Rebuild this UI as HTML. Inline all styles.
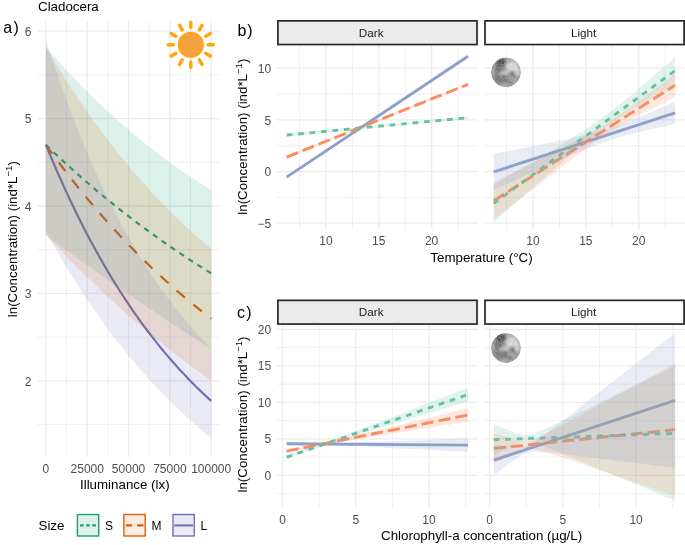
<!DOCTYPE html>
<html><head><meta charset="utf-8"><style>
html,body{margin:0;padding:0;background:#fff;}
svg{display:block;will-change:transform;}
</style></head><body>
<svg width="685" height="545" viewBox="0 0 685 545" font-family='"Liberation Sans", sans-serif'>
<defs><radialGradient id="moonG" cx="0.62" cy="0.38" r="0.75">
<stop offset="0" stop-color="#CCCCCC"/><stop offset="0.55" stop-color="#A2A2A2"/><stop offset="1" stop-color="#7E7E7E"/></radialGradient>
<filter id="mblur" x="-20%" y="-20%" width="140%" height="140%"><feGaussianBlur stdDeviation="0.9"/></filter>
<filter id="mnoise" x="0" y="0" width="100%" height="100%"><feTurbulence type="fractalNoise" baseFrequency="0.7" numOctaves="2" seed="5"/><feColorMatrix type="matrix" values="0 0 0 0 0.5  0 0 0 0 0.5  0 0 0 0 0.5  1.6 0 0 0 -0.55"/></filter>
<clipPath id="clip1"><circle cx="506.0" cy="72.3" r="14.9"/></clipPath>
<clipPath id="clip2"><circle cx="506.0" cy="348.0" r="14.9"/></clipPath>
</defs>
<rect width="685" height="545" fill="#fff"/>
<line x1="37.7" x2="219.4" y1="424.50" y2="424.50" stroke="#F0F0F0" stroke-width="1.0"/>
<line x1="37.7" x2="219.4" y1="337.10" y2="337.10" stroke="#F0F0F0" stroke-width="1.0"/>
<line x1="37.7" x2="219.4" y1="249.70" y2="249.70" stroke="#F0F0F0" stroke-width="1.0"/>
<line x1="37.7" x2="219.4" y1="162.30" y2="162.30" stroke="#F0F0F0" stroke-width="1.0"/>
<line x1="37.7" x2="219.4" y1="74.90" y2="74.90" stroke="#F0F0F0" stroke-width="1.0"/>
<line x1="66.56" x2="66.56" y1="21.0" y2="457.0" stroke="#F0F0F0" stroke-width="1.0"/>
<line x1="107.89" x2="107.89" y1="21.0" y2="457.0" stroke="#F0F0F0" stroke-width="1.0"/>
<line x1="149.21" x2="149.21" y1="21.0" y2="457.0" stroke="#F0F0F0" stroke-width="1.0"/>
<line x1="190.54" x2="190.54" y1="21.0" y2="457.0" stroke="#F0F0F0" stroke-width="1.0"/>
<line x1="37.7" x2="219.4" y1="380.80" y2="380.80" stroke="#EBEBEB" stroke-width="1.3"/>
<line x1="37.7" x2="219.4" y1="293.40" y2="293.40" stroke="#EBEBEB" stroke-width="1.3"/>
<line x1="37.7" x2="219.4" y1="206.00" y2="206.00" stroke="#EBEBEB" stroke-width="1.3"/>
<line x1="37.7" x2="219.4" y1="118.60" y2="118.60" stroke="#EBEBEB" stroke-width="1.3"/>
<line x1="37.7" x2="219.4" y1="31.20" y2="31.20" stroke="#EBEBEB" stroke-width="1.3"/>
<line x1="45.90" x2="45.90" y1="21.0" y2="457.0" stroke="#EBEBEB" stroke-width="1.3"/>
<line x1="87.22" x2="87.22" y1="21.0" y2="457.0" stroke="#EBEBEB" stroke-width="1.3"/>
<line x1="128.55" x2="128.55" y1="21.0" y2="457.0" stroke="#EBEBEB" stroke-width="1.3"/>
<line x1="169.88" x2="169.88" y1="21.0" y2="457.0" stroke="#EBEBEB" stroke-width="1.3"/>
<line x1="211.20" x2="211.20" y1="21.0" y2="457.0" stroke="#EBEBEB" stroke-width="1.3"/>
<path d="M45.90,144.82 L48.66,151.52 L51.41,158.10 L54.16,164.58 L56.92,170.95 L59.67,177.21 L62.43,183.37 L65.19,189.43 L67.94,195.39 L70.69,201.25 L73.45,207.01 L76.20,212.68 L78.96,218.25 L81.72,223.73 L84.47,229.13 L87.22,234.43 L89.98,239.64 L92.73,244.77 L95.49,249.81 L98.25,254.77 L101.00,259.65 L103.75,264.45 L106.51,269.17 L109.27,273.81 L112.02,278.37 L114.78,282.86 L117.53,287.28 L120.28,291.62 L123.04,295.89 L125.80,300.08 L128.55,304.21 L131.31,308.28 L134.06,312.27 L136.82,316.20 L139.57,320.06 L142.33,323.86 L145.08,327.60 L147.84,331.27 L150.59,334.88 L153.34,338.44 L156.10,341.93 L158.86,345.37 L161.61,348.75 L164.37,352.08 L167.12,355.35 L169.88,358.56 L172.63,361.73 L175.39,364.84 L178.14,367.90 L180.90,370.90 L183.65,373.86 L186.41,376.77 L189.16,379.64 L191.92,382.45 L194.67,385.22 L197.43,387.94 L200.18,390.62 L202.94,393.25 L205.69,395.84 L208.45,398.39 L211.20,400.89" fill="none" stroke="#7570B3" stroke-width="2.2"/>
<path d="M45.90,144.82 L48.66,148.66 L51.41,152.45 L54.16,156.21 L56.92,159.93 L59.67,163.62 L62.43,167.27 L65.19,170.88 L67.94,174.45 L70.69,177.99 L73.45,181.50 L76.20,184.97 L78.96,188.40 L81.72,191.81 L84.47,195.17 L87.22,198.51 L89.98,201.81 L92.73,205.08 L95.49,208.31 L98.25,211.52 L101.00,214.69 L103.75,217.83 L106.51,220.94 L109.27,224.01 L112.02,227.06 L114.78,230.08 L117.53,233.06 L120.28,236.02 L123.04,238.95 L125.80,241.85 L128.55,244.72 L131.31,247.56 L134.06,250.37 L136.82,253.16 L139.57,255.91 L142.33,258.64 L145.08,261.35 L147.84,264.02 L150.59,266.67 L153.34,269.29 L156.10,271.89 L158.86,274.46 L161.61,277.01 L164.37,279.53 L167.12,282.02 L169.88,284.49 L172.63,286.94 L175.39,289.36 L178.14,291.75 L180.90,294.13 L183.65,296.48 L186.41,298.80 L189.16,301.11 L191.92,303.39 L194.67,305.64 L197.43,307.88 L200.18,310.09 L202.94,312.28 L205.69,314.45 L208.45,316.60 L211.20,318.72" fill="none" stroke="#D95F02" stroke-width="2.2" stroke-dasharray="10.9 10.9"/>
<path d="M45.90,144.82 L48.66,147.47 L51.41,150.10 L54.16,152.71 L56.92,155.30 L59.67,157.87 L62.43,160.42 L65.19,162.95 L67.94,165.46 L70.69,167.96 L73.45,170.43 L76.20,172.89 L78.96,175.33 L81.72,177.75 L84.47,180.15 L87.22,182.54 L89.98,184.91 L92.73,187.26 L95.49,189.59 L98.25,191.90 L101.00,194.20 L103.75,196.48 L106.51,198.74 L109.27,200.99 L112.02,203.22 L114.78,205.43 L117.53,207.62 L120.28,209.80 L123.04,211.97 L125.80,214.11 L128.55,216.24 L131.31,218.36 L134.06,220.46 L136.82,222.54 L139.57,224.61 L142.33,226.66 L145.08,228.70 L147.84,230.72 L150.59,232.73 L153.34,234.72 L156.10,236.70 L158.86,238.66 L161.61,240.61 L164.37,242.54 L167.12,244.46 L169.88,246.36 L172.63,248.25 L175.39,250.13 L178.14,251.99 L180.90,253.84 L183.65,255.67 L186.41,257.49 L189.16,259.30 L191.92,261.09 L194.67,262.87 L197.43,264.64 L200.18,266.39 L202.94,268.14 L205.69,269.86 L208.45,271.58 L211.20,273.28" fill="none" stroke="#1B9E77" stroke-width="2.2" stroke-dasharray="5.4 5.35"/>
<path d="M45.90,46.93 L48.66,50.14 L51.41,53.32 L54.16,56.46 L56.92,59.57 L59.67,62.65 L62.43,65.70 L65.19,68.71 L67.94,71.69 L70.69,74.64 L73.45,77.55 L76.20,80.44 L78.96,83.30 L81.72,86.12 L84.47,88.92 L87.22,91.68 L89.98,94.42 L92.73,97.13 L95.49,99.81 L98.25,102.46 L101.00,105.08 L103.75,107.67 L106.51,110.24 L109.27,112.78 L112.02,115.29 L114.78,117.78 L117.53,120.24 L120.28,122.67 L123.04,125.08 L125.80,127.46 L128.55,129.82 L131.31,132.15 L134.06,134.46 L136.82,136.74 L139.57,139.00 L142.33,141.23 L145.08,143.44 L147.84,145.63 L150.59,147.79 L153.34,149.94 L156.10,152.05 L158.86,154.15 L161.61,156.22 L164.37,158.28 L167.12,160.30 L169.88,162.31 L172.63,164.30 L175.39,166.27 L178.14,168.21 L180.90,170.14 L183.65,172.04 L186.41,173.92 L189.16,175.79 L191.92,177.63 L194.67,179.46 L197.43,181.26 L200.18,183.05 L202.94,184.82 L205.69,186.56 L208.45,188.29 L211.20,190.00 L211.20,348.98 L208.45,347.22 L205.69,345.45 L202.94,343.68 L200.18,341.91 L197.43,340.13 L194.67,338.35 L191.92,336.56 L189.16,334.77 L186.41,332.97 L183.65,331.17 L180.90,329.36 L178.14,327.55 L175.39,325.74 L172.63,323.92 L169.88,322.09 L167.12,320.26 L164.37,318.43 L161.61,316.59 L158.86,314.75 L156.10,312.90 L153.34,311.05 L150.59,309.20 L147.84,307.33 L145.08,305.47 L142.33,303.60 L139.57,301.72 L136.82,299.84 L134.06,297.96 L131.31,296.07 L128.55,294.18 L125.80,292.28 L123.04,290.37 L120.28,288.47 L117.53,286.55 L114.78,284.64 L112.02,282.71 L109.27,280.79 L106.51,278.85 L103.75,276.92 L101.00,274.98 L98.25,273.03 L95.49,271.08 L92.73,269.12 L89.98,267.16 L87.22,265.19 L84.47,263.22 L81.72,261.25 L78.96,259.27 L76.20,257.28 L73.45,255.29 L70.69,253.29 L67.94,251.29 L65.19,249.29 L62.43,247.28 L59.67,245.26 L56.92,243.24 L54.16,241.21 L51.41,239.18 L48.66,237.15 L45.90,235.10 Z" fill="#1B9E77" fill-opacity="0.15"/>
<path d="M45.90,46.93 L48.66,51.62 L51.41,56.26 L54.16,60.84 L56.92,65.37 L59.67,69.84 L62.43,74.26 L65.19,78.63 L67.94,82.94 L70.69,87.20 L73.45,91.42 L76.20,95.58 L78.96,99.69 L81.72,103.75 L84.47,107.77 L87.22,111.73 L89.98,115.65 L92.73,119.53 L95.49,123.35 L98.25,127.13 L101.00,130.87 L103.75,134.56 L106.51,138.21 L109.27,141.81 L112.02,145.37 L114.78,148.89 L117.53,152.37 L120.28,155.80 L123.04,159.20 L125.80,162.55 L128.55,165.86 L131.31,169.14 L134.06,172.37 L136.82,175.57 L139.57,178.73 L142.33,181.85 L145.08,184.93 L147.84,187.97 L150.59,190.99 L153.34,193.96 L156.10,196.90 L158.86,199.80 L161.61,202.67 L164.37,205.51 L167.12,208.31 L169.88,211.07 L172.63,213.81 L175.39,216.51 L178.14,219.18 L180.90,221.82 L183.65,224.42 L186.41,227.00 L189.16,229.54 L191.92,232.06 L194.67,234.54 L197.43,237.00 L200.18,239.42 L202.94,241.82 L205.69,244.19 L208.45,246.53 L211.20,248.84 L211.20,380.79 L208.45,378.82 L205.69,376.84 L202.94,374.85 L200.18,372.85 L197.43,370.83 L194.67,368.79 L191.92,366.74 L189.16,364.68 L186.41,362.60 L183.65,360.51 L180.90,358.41 L178.14,356.28 L175.39,354.15 L172.63,352.00 L169.88,349.83 L167.12,347.65 L164.37,345.45 L161.61,343.24 L158.86,341.01 L156.10,338.77 L153.34,336.51 L150.59,334.23 L147.84,331.94 L145.08,329.64 L142.33,327.31 L139.57,324.97 L136.82,322.62 L134.06,320.24 L131.31,317.85 L128.55,315.45 L125.80,313.02 L123.04,310.58 L120.28,308.13 L117.53,305.65 L114.78,303.16 L112.02,300.65 L109.27,298.12 L106.51,295.58 L103.75,293.02 L101.00,290.44 L98.25,287.84 L95.49,285.22 L92.73,282.59 L89.98,279.93 L87.22,277.26 L84.47,274.57 L81.72,271.86 L78.96,269.13 L76.20,266.38 L73.45,263.61 L70.69,260.82 L67.94,258.02 L65.19,255.19 L62.43,252.34 L59.67,249.48 L56.92,246.59 L54.16,243.69 L51.41,240.76 L48.66,237.81 L45.90,234.84 Z" fill="#D95F02" fill-opacity="0.15"/>
<path d="M45.90,39.94 L48.66,48.51 L51.41,56.92 L54.16,65.16 L56.92,73.26 L59.67,81.19 L62.43,88.98 L65.19,96.62 L67.94,104.11 L70.69,111.46 L73.45,118.68 L76.20,125.75 L78.96,132.69 L81.72,139.50 L84.47,146.18 L87.22,152.73 L89.98,159.16 L92.73,165.47 L95.49,171.66 L98.25,177.72 L101.00,183.68 L103.75,189.52 L106.51,195.25 L109.27,200.87 L112.02,206.39 L114.78,211.80 L117.53,217.10 L120.28,222.31 L123.04,227.42 L125.80,232.43 L128.55,237.34 L131.31,242.17 L134.06,246.90 L136.82,251.54 L139.57,256.09 L142.33,260.56 L145.08,264.94 L147.84,269.24 L150.59,273.45 L153.34,277.59 L156.10,281.65 L158.86,285.63 L161.61,289.54 L164.37,293.37 L167.12,297.13 L169.88,300.81 L172.63,304.43 L175.39,307.98 L178.14,311.46 L180.90,314.88 L183.65,318.23 L186.41,321.51 L189.16,324.74 L191.92,327.90 L194.67,331.00 L197.43,334.05 L200.18,337.04 L202.94,339.96 L205.69,342.84 L208.45,345.66 L211.20,348.42 L211.20,437.97 L208.45,435.74 L205.69,433.47 L202.94,431.18 L200.18,428.85 L197.43,426.49 L194.67,424.09 L191.92,421.67 L189.16,419.21 L186.41,416.71 L183.65,414.19 L180.90,411.62 L178.14,409.03 L175.39,406.39 L172.63,403.72 L169.88,401.02 L167.12,398.27 L164.37,395.49 L161.61,392.67 L158.86,389.81 L156.10,386.92 L153.34,383.98 L150.59,381.00 L147.84,377.98 L145.08,374.92 L142.33,371.82 L139.57,368.67 L136.82,365.48 L134.06,362.25 L131.31,358.97 L128.55,355.65 L125.80,352.28 L123.04,348.87 L120.28,345.41 L117.53,341.90 L114.78,338.34 L112.02,334.74 L109.27,331.08 L106.51,327.37 L103.75,323.62 L101.00,319.81 L98.25,315.95 L95.49,312.03 L92.73,308.07 L89.98,304.04 L87.22,299.96 L84.47,295.83 L81.72,291.64 L78.96,287.39 L76.20,283.08 L73.45,278.72 L70.69,274.29 L67.94,269.80 L65.19,265.25 L62.43,260.64 L59.67,255.97 L56.92,251.23 L54.16,246.42 L51.41,241.55 L48.66,236.61 L45.90,231.61 Z" fill="#7570B3" fill-opacity="0.15"/>
<g stroke="#FFA60F" stroke-width="3.5" stroke-linecap="round"><line x1="208.10" y1="44.80" x2="213.40" y2="44.80"/><line x1="205.78" y1="53.45" x2="210.37" y2="56.10"/><line x1="199.45" y1="59.78" x2="202.10" y2="64.37"/><line x1="190.80" y1="62.10" x2="190.80" y2="67.40"/><line x1="182.15" y1="59.78" x2="179.50" y2="64.37"/><line x1="175.82" y1="53.45" x2="171.23" y2="56.10"/><line x1="173.50" y1="44.80" x2="168.20" y2="44.80"/><line x1="175.82" y1="36.15" x2="171.23" y2="33.50"/><line x1="182.15" y1="29.82" x2="179.50" y2="25.23"/><line x1="190.80" y1="27.50" x2="190.80" y2="22.20"/><line x1="199.45" y1="29.82" x2="202.10" y2="25.23"/><line x1="205.78" y1="36.15" x2="210.37" y2="33.50"/></g>
<circle cx="190.8" cy="44.8" r="12.3" fill="#F6A23E" stroke="#FFA510" stroke-width="1.6"/>
<text x="31.4" y="385.60" text-anchor="end" font-family='"Liberation Sans", sans-serif' font-size="12" fill="#4D4D4D">2</text>
<text x="31.4" y="298.20" text-anchor="end" font-family='"Liberation Sans", sans-serif' font-size="12" fill="#4D4D4D">3</text>
<text x="31.4" y="210.80" text-anchor="end" font-family='"Liberation Sans", sans-serif' font-size="12" fill="#4D4D4D">4</text>
<text x="31.4" y="123.40" text-anchor="end" font-family='"Liberation Sans", sans-serif' font-size="12" fill="#4D4D4D">5</text>
<text x="31.4" y="36.00" text-anchor="end" font-family='"Liberation Sans", sans-serif' font-size="12" fill="#4D4D4D">6</text>
<text x="45.90" y="473.4" text-anchor="middle" font-family='"Liberation Sans", sans-serif' font-size="12" fill="#4D4D4D">0</text>
<text x="87.22" y="473.4" text-anchor="middle" font-family='"Liberation Sans", sans-serif' font-size="12" fill="#4D4D4D">25000</text>
<text x="128.55" y="473.4" text-anchor="middle" font-family='"Liberation Sans", sans-serif' font-size="12" fill="#4D4D4D">50000</text>
<text x="169.88" y="473.4" text-anchor="middle" font-family='"Liberation Sans", sans-serif' font-size="12" fill="#4D4D4D">75000</text>
<text x="211.20" y="473.4" text-anchor="middle" font-family='"Liberation Sans", sans-serif' font-size="12" fill="#4D4D4D">100000</text>
<text x="124.8" y="488.6" text-anchor="middle" font-family='"Liberation Sans", sans-serif' font-size="13.33" fill="#000">Illuminance (lx)</text>
<text x="38" y="10.6" font-family='"Liberation Sans", sans-serif' font-size="13.33" fill="#000">Cladocera</text>
<text transform="translate(16.6,239.2) rotate(-90)" text-anchor="middle" font-family='"Liberation Sans", sans-serif' font-size="13.33" fill="#000">ln(Concentration) (ind*L<tspan dy="-5" font-size="9.5">−1</tspan><tspan dy="5">)</tspan></text>
<text transform="translate(246.6,136.7) rotate(-90)" text-anchor="middle" font-family='"Liberation Sans", sans-serif' font-size="13.33" fill="#000">ln(Concentration) (ind*L<tspan dy="-5" font-size="9.5">−1</tspan><tspan dy="5">)</tspan></text>
<text transform="translate(246.6,414.5) rotate(-90)" text-anchor="middle" font-family='"Liberation Sans", sans-serif' font-size="13.33" fill="#000">ln(Concentration) (ind*L<tspan dy="-5" font-size="9.5">−1</tspan><tspan dy="5">)</tspan></text>
<text x="3.2" y="32.5" font-family='"Liberation Sans", sans-serif' font-size="16" fill="#000">a<tspan dx="1.5">)</tspan></text>
<text x="237.4" y="35.6" font-family='"Liberation Sans", sans-serif' font-size="16" fill="#000">b<tspan dx="0.9">)</tspan></text>
<text x="237.0" y="317.5" font-family='"Liberation Sans", sans-serif' font-size="16" fill="#000">c<tspan dx="1.2">)</tspan></text>
<text x="38.5" y="530" font-family='"Liberation Sans", sans-serif' font-size="13.33" fill="#000">Size</text>
<rect x="77.4" y="514.5" width="21.3" height="21.5" fill="#1B9E77" fill-opacity="0.15" stroke="#1B9E77" stroke-width="1.4"/>
<line x1="80.10000000000001" x2="96.2" y1="525.4" y2="525.4" stroke="#1B9E77" stroke-width="2.1" stroke-dasharray="3.5 2.6"/>
<text x="105.0" y="530" font-family='"Liberation Sans", sans-serif' font-size="12" fill="#000">S</text>
<rect x="123.9" y="514.5" width="21.3" height="21.5" fill="#FEECE4" stroke="#D95F02" stroke-width="1.4"/>
<line x1="125.80000000000001" x2="143.70000000000002" y1="525.4" y2="525.4" stroke="#D95F02" stroke-width="2.1" stroke-dasharray="6.3 5.0"/>
<text x="151.5" y="530" font-family='"Liberation Sans", sans-serif' font-size="12" fill="#000">M</text>
<rect x="173.0" y="514.5" width="21.3" height="21.5" fill="#7570B3" fill-opacity="0.15" stroke="#7570B3" stroke-width="1.4"/>
<line x1="174.2" x2="193.1" y1="525.4" y2="525.4" stroke="#7570B3" stroke-width="2.1"/>
<text x="200.6" y="530" font-family='"Liberation Sans", sans-serif' font-size="12" fill="#000">L</text>
<line x1="277.2" x2="477.7" y1="197.38" y2="197.38" stroke="#F0F0F0" stroke-width="1.0"/>
<line x1="277.2" x2="477.7" y1="145.72" y2="145.72" stroke="#F0F0F0" stroke-width="1.0"/>
<line x1="277.2" x2="477.7" y1="94.05" y2="94.05" stroke="#F0F0F0" stroke-width="1.0"/>
<line x1="299.50" x2="299.50" y1="45.6" y2="229.6" stroke="#F0F0F0" stroke-width="1.0"/>
<line x1="352.35" x2="352.35" y1="45.6" y2="229.6" stroke="#F0F0F0" stroke-width="1.0"/>
<line x1="405.20" x2="405.20" y1="45.6" y2="229.6" stroke="#F0F0F0" stroke-width="1.0"/>
<line x1="458.05" x2="458.05" y1="45.6" y2="229.6" stroke="#F0F0F0" stroke-width="1.0"/>
<line x1="277.2" x2="477.7" y1="223.22" y2="223.22" stroke="#EBEBEB" stroke-width="1.3"/>
<line x1="277.2" x2="477.7" y1="171.55" y2="171.55" stroke="#EBEBEB" stroke-width="1.3"/>
<line x1="277.2" x2="477.7" y1="119.89" y2="119.89" stroke="#EBEBEB" stroke-width="1.3"/>
<line x1="277.2" x2="477.7" y1="68.22" y2="68.22" stroke="#EBEBEB" stroke-width="1.3"/>
<line x1="325.93" x2="325.93" y1="45.6" y2="229.6" stroke="#EBEBEB" stroke-width="1.3"/>
<line x1="378.77" x2="378.77" y1="45.6" y2="229.6" stroke="#EBEBEB" stroke-width="1.3"/>
<line x1="431.62" x2="431.62" y1="45.6" y2="229.6" stroke="#EBEBEB" stroke-width="1.3"/>
<line x1="277.2" x2="477.7" y1="493.66" y2="493.66" stroke="#F0F0F0" stroke-width="1.0"/>
<line x1="277.2" x2="477.7" y1="457.14" y2="457.14" stroke="#F0F0F0" stroke-width="1.0"/>
<line x1="277.2" x2="477.7" y1="420.61" y2="420.61" stroke="#F0F0F0" stroke-width="1.0"/>
<line x1="277.2" x2="477.7" y1="384.09" y2="384.09" stroke="#F0F0F0" stroke-width="1.0"/>
<line x1="277.2" x2="477.7" y1="347.56" y2="347.56" stroke="#F0F0F0" stroke-width="1.0"/>
<line x1="319.12" x2="319.12" y1="324.7" y2="508.8" stroke="#F0F0F0" stroke-width="1.0"/>
<line x1="392.38" x2="392.38" y1="324.7" y2="508.8" stroke="#F0F0F0" stroke-width="1.0"/>
<line x1="465.62" x2="465.62" y1="324.7" y2="508.8" stroke="#F0F0F0" stroke-width="1.0"/>
<line x1="277.2" x2="477.7" y1="475.40" y2="475.40" stroke="#EBEBEB" stroke-width="1.3"/>
<line x1="277.2" x2="477.7" y1="438.88" y2="438.88" stroke="#EBEBEB" stroke-width="1.3"/>
<line x1="277.2" x2="477.7" y1="402.35" y2="402.35" stroke="#EBEBEB" stroke-width="1.3"/>
<line x1="277.2" x2="477.7" y1="365.82" y2="365.82" stroke="#EBEBEB" stroke-width="1.3"/>
<line x1="277.2" x2="477.7" y1="329.30" y2="329.30" stroke="#EBEBEB" stroke-width="1.3"/>
<line x1="282.50" x2="282.50" y1="324.7" y2="508.8" stroke="#EBEBEB" stroke-width="1.3"/>
<line x1="355.75" x2="355.75" y1="324.7" y2="508.8" stroke="#EBEBEB" stroke-width="1.3"/>
<line x1="429.00" x2="429.00" y1="324.7" y2="508.8" stroke="#EBEBEB" stroke-width="1.3"/>
<line x1="484.29999999999995" x2="684.8" y1="197.38" y2="197.38" stroke="#F0F0F0" stroke-width="1.0"/>
<line x1="484.29999999999995" x2="684.8" y1="145.72" y2="145.72" stroke="#F0F0F0" stroke-width="1.0"/>
<line x1="484.29999999999995" x2="684.8" y1="94.05" y2="94.05" stroke="#F0F0F0" stroke-width="1.0"/>
<line x1="506.60" x2="506.60" y1="45.6" y2="229.6" stroke="#F0F0F0" stroke-width="1.0"/>
<line x1="559.45" x2="559.45" y1="45.6" y2="229.6" stroke="#F0F0F0" stroke-width="1.0"/>
<line x1="612.30" x2="612.30" y1="45.6" y2="229.6" stroke="#F0F0F0" stroke-width="1.0"/>
<line x1="665.15" x2="665.15" y1="45.6" y2="229.6" stroke="#F0F0F0" stroke-width="1.0"/>
<line x1="484.29999999999995" x2="684.8" y1="223.22" y2="223.22" stroke="#EBEBEB" stroke-width="1.3"/>
<line x1="484.29999999999995" x2="684.8" y1="171.55" y2="171.55" stroke="#EBEBEB" stroke-width="1.3"/>
<line x1="484.29999999999995" x2="684.8" y1="119.89" y2="119.89" stroke="#EBEBEB" stroke-width="1.3"/>
<line x1="484.29999999999995" x2="684.8" y1="68.22" y2="68.22" stroke="#EBEBEB" stroke-width="1.3"/>
<line x1="533.02" x2="533.02" y1="45.6" y2="229.6" stroke="#EBEBEB" stroke-width="1.3"/>
<line x1="585.88" x2="585.88" y1="45.6" y2="229.6" stroke="#EBEBEB" stroke-width="1.3"/>
<line x1="638.73" x2="638.73" y1="45.6" y2="229.6" stroke="#EBEBEB" stroke-width="1.3"/>
<line x1="484.29999999999995" x2="684.8" y1="493.66" y2="493.66" stroke="#F0F0F0" stroke-width="1.0"/>
<line x1="484.29999999999995" x2="684.8" y1="457.14" y2="457.14" stroke="#F0F0F0" stroke-width="1.0"/>
<line x1="484.29999999999995" x2="684.8" y1="420.61" y2="420.61" stroke="#F0F0F0" stroke-width="1.0"/>
<line x1="484.29999999999995" x2="684.8" y1="384.09" y2="384.09" stroke="#F0F0F0" stroke-width="1.0"/>
<line x1="484.29999999999995" x2="684.8" y1="347.56" y2="347.56" stroke="#F0F0F0" stroke-width="1.0"/>
<line x1="526.23" x2="526.23" y1="324.7" y2="508.8" stroke="#F0F0F0" stroke-width="1.0"/>
<line x1="599.48" x2="599.48" y1="324.7" y2="508.8" stroke="#F0F0F0" stroke-width="1.0"/>
<line x1="672.73" x2="672.73" y1="324.7" y2="508.8" stroke="#F0F0F0" stroke-width="1.0"/>
<line x1="484.29999999999995" x2="684.8" y1="475.40" y2="475.40" stroke="#EBEBEB" stroke-width="1.3"/>
<line x1="484.29999999999995" x2="684.8" y1="438.88" y2="438.88" stroke="#EBEBEB" stroke-width="1.3"/>
<line x1="484.29999999999995" x2="684.8" y1="402.35" y2="402.35" stroke="#EBEBEB" stroke-width="1.3"/>
<line x1="484.29999999999995" x2="684.8" y1="365.82" y2="365.82" stroke="#EBEBEB" stroke-width="1.3"/>
<line x1="484.29999999999995" x2="684.8" y1="329.30" y2="329.30" stroke="#EBEBEB" stroke-width="1.3"/>
<line x1="489.60" x2="489.60" y1="324.7" y2="508.8" stroke="#EBEBEB" stroke-width="1.3"/>
<line x1="562.85" x2="562.85" y1="324.7" y2="508.8" stroke="#EBEBEB" stroke-width="1.3"/>
<line x1="636.10" x2="636.10" y1="324.7" y2="508.8" stroke="#EBEBEB" stroke-width="1.3"/>
<path d="M286.65,177.13 L468.00,56.23" fill="none" stroke="#8DA0CB" stroke-width="2.9"/>
<path d="M286.65,157.08 L468.00,84.34" fill="none" stroke="#FC8D62" stroke-width="2.9" stroke-dasharray="12.2 5.0"/>
<path d="M286.65,135.07 L468.00,117.72" fill="none" stroke="#66C2A5" stroke-width="2.9" stroke-dasharray="5.7 5.8"/>
<path d="M286.65,133.35 L291.18,132.96 L295.72,132.57 L300.25,132.18 L304.78,131.79 L309.32,131.40 L313.85,131.00 L318.39,130.61 L322.92,130.21 L327.45,129.81 L331.99,129.42 L336.52,129.02 L341.06,128.62 L345.59,128.21 L350.12,127.81 L354.66,127.40 L359.19,126.99 L363.72,126.58 L368.26,126.17 L372.79,125.75 L377.32,125.33 L381.86,124.91 L386.39,124.48 L390.93,124.06 L395.46,123.63 L399.99,123.19 L404.53,122.75 L409.06,122.31 L413.60,121.87 L418.13,121.43 L422.66,120.98 L427.20,120.53 L431.73,120.07 L436.26,119.62 L440.80,119.16 L445.33,118.70 L449.87,118.23 L454.40,117.77 L458.93,117.30 L463.47,116.84 L468.00,116.37 L468.00,119.06 L463.47,119.46 L458.93,119.86 L454.40,120.26 L449.87,120.67 L445.33,121.07 L440.80,121.48 L436.26,121.89 L431.73,122.30 L427.20,122.72 L422.66,123.13 L418.13,123.55 L413.60,123.97 L409.06,124.40 L404.53,124.83 L399.99,125.26 L395.46,125.69 L390.93,126.13 L386.39,126.57 L381.86,127.01 L377.32,127.46 L372.79,127.91 L368.26,128.36 L363.72,128.81 L359.19,129.27 L354.66,129.73 L350.12,130.19 L345.59,130.65 L341.06,131.12 L336.52,131.58 L331.99,132.05 L327.45,132.52 L322.92,132.99 L318.39,133.47 L313.85,133.94 L309.32,134.41 L304.78,134.89 L300.25,135.37 L295.72,135.84 L291.18,136.32 L286.65,136.80 Z" fill="#66C2A5" fill-opacity="0.2"/>
<path d="M286.65,155.27 L291.18,153.50 L295.72,151.73 L300.25,149.96 L304.78,148.19 L309.32,146.41 L313.85,144.64 L318.39,142.87 L322.92,141.09 L327.45,139.31 L331.99,137.54 L336.52,135.76 L341.06,133.97 L345.59,132.19 L350.12,130.41 L354.66,128.62 L359.19,126.83 L363.72,125.04 L368.26,123.24 L372.79,121.44 L377.32,119.64 L381.86,117.84 L386.39,116.03 L390.93,114.22 L395.46,112.40 L399.99,110.58 L404.53,108.76 L409.06,106.94 L413.60,105.11 L418.13,103.28 L422.66,101.44 L427.20,99.60 L431.73,97.76 L436.26,95.92 L440.80,94.07 L445.33,92.22 L449.87,90.37 L454.40,88.51 L458.93,86.66 L463.47,84.80 L468.00,82.94 L468.00,85.74 L463.47,87.51 L458.93,89.29 L454.40,91.08 L449.87,92.86 L445.33,94.65 L440.80,96.43 L436.26,98.22 L431.73,100.02 L427.20,101.81 L422.66,103.61 L418.13,105.41 L413.60,107.22 L409.06,109.03 L404.53,110.84 L399.99,112.65 L395.46,114.47 L390.93,116.29 L386.39,118.12 L381.86,119.95 L377.32,121.78 L372.79,123.62 L368.26,125.46 L363.72,127.30 L359.19,129.14 L354.66,130.99 L350.12,132.84 L345.59,134.69 L341.06,136.55 L336.52,138.40 L331.99,140.26 L327.45,142.12 L322.92,143.98 L318.39,145.84 L313.85,147.70 L309.32,149.57 L304.78,151.43 L300.25,153.30 L295.72,155.17 L291.18,157.03 L286.65,158.90 Z" fill="#FC8D62" fill-opacity="0.2"/>
<path d="M286.65,175.80 L291.18,172.82 L295.72,169.82 L300.25,166.83 L304.78,163.84 L309.32,160.85 L313.85,157.86 L318.39,154.86 L322.92,151.87 L327.45,148.87 L331.99,145.88 L336.52,142.88 L341.06,139.88 L345.59,136.88 L350.12,133.88 L354.66,130.87 L359.19,127.87 L363.72,124.86 L368.26,121.85 L372.79,118.84 L377.32,115.83 L381.86,112.82 L386.39,109.80 L390.93,106.79 L395.46,103.77 L399.99,100.74 L404.53,97.72 L409.06,94.69 L413.60,91.66 L418.13,88.63 L422.66,85.60 L427.20,82.57 L431.73,79.53 L436.26,76.49 L440.80,73.45 L445.33,70.41 L449.87,67.37 L454.40,64.32 L458.93,61.28 L463.47,58.23 L468.00,55.18 L468.00,57.29 L463.47,60.28 L458.93,63.28 L454.40,66.28 L449.87,69.28 L445.33,72.28 L440.80,75.29 L436.26,78.29 L431.73,81.30 L427.20,84.31 L422.66,87.32 L418.13,90.33 L413.60,93.34 L409.06,96.36 L404.53,99.38 L399.99,102.40 L395.46,105.42 L390.93,108.44 L386.39,111.47 L381.86,114.50 L377.32,117.53 L372.79,120.56 L368.26,123.60 L363.72,126.63 L359.19,129.67 L354.66,132.71 L350.12,135.76 L345.59,138.80 L341.06,141.84 L336.52,144.89 L331.99,147.94 L327.45,150.98 L322.92,154.03 L318.39,157.08 L313.85,160.13 L309.32,163.19 L304.78,166.24 L300.25,169.29 L295.72,172.35 L291.18,175.40 L286.65,178.45 Z" fill="#8DA0CB" fill-opacity="0.2"/>
<path d="M493.75,171.96 L675.10,112.76" fill="none" stroke="#8DA0CB" stroke-width="2.9"/>
<path d="M493.75,200.79 L675.10,85.17" fill="none" stroke="#FC8D62" stroke-width="2.9" stroke-dasharray="12.2 5.0"/>
<path d="M493.75,203.38 L675.10,70.60" fill="none" stroke="#66C2A5" stroke-width="2.9" stroke-dasharray="5.7 5.8"/>
<path d="M493.75,184.45 L498.28,181.83 L502.82,179.21 L507.35,176.58 L511.88,173.95 L516.42,171.32 L520.95,168.67 L525.49,166.03 L530.02,163.37 L534.55,160.71 L539.09,158.03 L543.62,155.35 L548.15,152.65 L552.69,149.93 L557.22,147.19 L561.76,144.43 L566.29,141.65 L570.82,138.82 L575.36,135.96 L579.89,133.06 L584.42,130.09 L588.96,127.06 L593.49,123.96 L598.03,120.78 L602.56,117.51 L607.09,114.15 L611.63,110.70 L616.16,107.17 L620.70,103.57 L625.23,99.90 L629.76,96.18 L634.30,92.40 L638.83,88.59 L643.36,84.74 L647.90,80.86 L652.43,76.96 L656.97,73.04 L661.50,69.11 L666.03,65.15 L670.57,61.19 L675.10,57.22 L675.10,83.98 L670.57,86.64 L666.03,89.32 L661.50,92.00 L656.97,94.71 L652.43,97.43 L647.90,100.16 L643.36,102.93 L638.83,105.72 L634.30,108.54 L629.76,111.41 L625.23,114.32 L620.70,117.29 L616.16,120.33 L611.63,123.44 L607.09,126.63 L602.56,129.91 L598.03,133.28 L593.49,136.73 L588.96,140.27 L584.42,143.88 L579.89,147.55 L575.36,151.29 L570.82,155.06 L566.29,158.88 L561.76,162.73 L557.22,166.61 L552.69,170.52 L548.15,174.44 L543.62,178.38 L539.09,182.33 L534.55,186.29 L530.02,190.27 L525.49,194.25 L520.95,198.24 L516.42,202.24 L511.88,206.24 L507.35,210.25 L502.82,214.27 L498.28,218.28 L493.75,222.30 Z" fill="#66C2A5" fill-opacity="0.2"/>
<path d="M493.75,181.86 L498.28,179.65 L502.82,177.44 L507.35,175.22 L511.88,173.00 L516.42,170.77 L520.95,168.54 L525.49,166.31 L530.02,164.07 L534.55,161.83 L539.09,159.57 L543.62,157.31 L548.15,155.04 L552.69,152.75 L557.22,150.45 L561.76,148.14 L566.29,145.80 L570.82,143.44 L575.36,141.05 L579.89,138.62 L584.42,136.15 L588.96,133.63 L593.49,131.04 L598.03,128.39 L602.56,125.66 L607.09,122.84 L611.63,119.93 L616.16,116.94 L620.70,113.86 L625.23,110.70 L629.76,107.48 L634.30,104.20 L638.83,100.87 L643.36,97.50 L647.90,94.10 L652.43,90.67 L656.97,87.22 L661.50,83.75 L666.03,80.26 L670.57,76.76 L675.10,73.24 L675.10,97.09 L670.57,99.36 L666.03,101.64 L661.50,103.93 L656.97,106.24 L652.43,108.57 L647.90,110.92 L643.36,113.30 L638.83,115.71 L634.30,118.17 L629.76,120.67 L625.23,123.23 L620.70,125.85 L616.16,128.55 L611.63,131.34 L607.09,134.21 L602.56,137.18 L598.03,140.22 L593.49,143.35 L588.96,146.55 L584.42,149.81 L579.89,153.12 L575.36,156.47 L570.82,159.86 L566.29,163.28 L561.76,166.73 L557.22,170.19 L552.69,173.68 L548.15,177.17 L543.62,180.68 L539.09,184.20 L534.55,187.73 L530.02,191.26 L525.49,194.80 L520.95,198.35 L516.42,201.90 L511.88,205.46 L507.35,209.02 L502.82,212.59 L498.28,216.15 L493.75,219.72 Z" fill="#FC8D62" fill-opacity="0.2"/>
<path d="M493.75,153.62 L498.28,152.77 L502.82,151.92 L507.35,151.06 L511.88,150.20 L516.42,149.34 L520.95,148.47 L525.49,147.59 L530.02,146.71 L534.55,145.82 L539.09,144.92 L543.62,144.02 L548.15,143.10 L552.69,142.17 L557.22,141.22 L561.76,140.26 L566.29,139.28 L570.82,138.27 L575.36,137.24 L579.89,136.17 L584.42,135.06 L588.96,133.91 L593.49,132.71 L598.03,131.45 L602.56,130.13 L607.09,128.74 L611.63,127.28 L616.16,125.74 L620.70,124.13 L625.23,122.46 L629.76,120.73 L634.30,118.94 L638.83,117.10 L643.36,115.23 L647.90,113.32 L652.43,111.37 L656.97,109.41 L661.50,107.42 L666.03,105.41 L670.57,103.39 L675.10,101.35 L675.10,124.16 L670.57,125.08 L666.03,126.02 L661.50,126.97 L656.97,127.94 L652.43,128.94 L647.90,129.96 L643.36,131.01 L638.83,132.09 L634.30,133.21 L629.76,134.39 L625.23,135.61 L620.70,136.90 L616.16,138.26 L611.63,139.68 L607.09,141.18 L602.56,142.75 L598.03,144.38 L593.49,146.08 L588.96,147.84 L584.42,149.65 L579.89,151.51 L575.36,153.40 L570.82,155.33 L566.29,157.28 L561.76,159.26 L557.22,161.26 L552.69,163.27 L548.15,165.30 L543.62,167.35 L539.09,169.40 L534.55,171.46 L530.02,173.53 L525.49,175.61 L520.95,177.70 L516.42,179.79 L511.88,181.88 L507.35,183.98 L502.82,186.09 L498.28,188.19 L493.75,190.30 Z" fill="#8DA0CB" fill-opacity="0.2"/>
<path d="M286.65,443.77 L468.00,445.16" fill="none" stroke="#8DA0CB" stroke-width="2.9"/>
<path d="M286.65,451.07 L468.00,414.99" fill="none" stroke="#FC8D62" stroke-width="2.9" stroke-dasharray="12.2 5.0"/>
<path d="M286.65,457.14 L468.00,394.53" fill="none" stroke="#66C2A5" stroke-width="2.9" stroke-dasharray="5.7 5.8"/>
<path d="M286.65,455.04 L291.18,453.62 L295.72,452.18 L300.25,450.73 L304.78,449.26 L309.32,447.77 L313.85,446.26 L318.39,444.72 L322.92,443.15 L327.45,441.55 L331.99,439.93 L336.52,438.28 L341.06,436.62 L345.59,434.93 L350.12,433.23 L354.66,431.53 L359.19,429.81 L363.72,428.08 L368.26,426.35 L372.79,424.62 L377.32,422.87 L381.86,421.13 L386.39,419.38 L390.93,417.63 L395.46,415.88 L399.99,414.13 L404.53,412.38 L409.06,410.62 L413.60,408.86 L418.13,407.11 L422.66,405.35 L427.20,403.59 L431.73,401.83 L436.26,400.07 L440.80,398.30 L445.33,396.54 L449.87,394.78 L454.40,393.02 L458.93,391.25 L463.47,389.49 L468.00,387.73 L468.00,401.34 L463.47,402.71 L458.93,404.07 L454.40,405.44 L449.87,406.81 L445.33,408.18 L440.80,409.54 L436.26,410.91 L431.73,412.28 L427.20,413.65 L422.66,415.02 L418.13,416.39 L413.60,417.77 L409.06,419.14 L404.53,420.51 L399.99,421.89 L395.46,423.27 L390.93,424.65 L386.39,426.03 L381.86,427.41 L377.32,428.80 L372.79,430.19 L368.26,431.58 L363.72,432.98 L359.19,434.38 L354.66,435.80 L350.12,437.22 L345.59,438.65 L341.06,440.10 L336.52,441.56 L331.99,443.04 L327.45,444.55 L322.92,446.08 L318.39,447.64 L313.85,449.23 L309.32,450.85 L304.78,452.49 L300.25,454.15 L295.72,455.83 L291.18,457.52 L286.65,459.23 Z" fill="#66C2A5" fill-opacity="0.2"/>
<path d="M286.65,448.99 L291.18,448.23 L295.72,447.45 L300.25,446.66 L304.78,445.86 L309.32,445.03 L313.85,444.17 L318.39,443.30 L322.92,442.39 L327.45,441.46 L331.99,440.50 L336.52,439.51 L341.06,438.51 L345.59,437.49 L350.12,436.46 L354.66,435.42 L359.19,434.36 L363.72,433.30 L368.26,432.24 L372.79,431.16 L377.32,430.09 L381.86,429.01 L386.39,427.93 L390.93,426.84 L395.46,425.76 L399.99,424.67 L404.53,423.58 L409.06,422.49 L413.60,421.39 L418.13,420.30 L422.66,419.21 L427.20,418.11 L431.73,417.02 L436.26,415.92 L440.80,414.82 L445.33,413.73 L449.87,412.63 L454.40,411.53 L458.93,410.43 L463.47,409.33 L468.00,408.23 L468.00,421.74 L463.47,422.45 L458.93,423.15 L454.40,423.86 L449.87,424.56 L445.33,425.27 L440.80,425.98 L436.26,426.69 L431.73,427.39 L427.20,428.10 L422.66,428.81 L418.13,429.52 L413.60,430.23 L409.06,430.94 L404.53,431.66 L399.99,432.37 L395.46,433.09 L390.93,433.81 L386.39,434.53 L381.86,435.25 L377.32,435.97 L372.79,436.70 L368.26,437.44 L363.72,438.17 L359.19,438.92 L354.66,439.67 L350.12,440.43 L345.59,441.20 L341.06,441.98 L336.52,442.79 L331.99,443.61 L327.45,444.45 L322.92,445.32 L318.39,446.22 L313.85,447.15 L309.32,448.10 L304.78,449.08 L300.25,450.07 L295.72,451.09 L291.18,452.12 L286.65,453.16 Z" fill="#FC8D62" fill-opacity="0.2"/>
<path d="M286.65,441.90 L291.18,442.10 L295.72,442.29 L300.25,442.46 L304.78,442.61 L309.32,442.75 L313.85,442.85 L318.39,442.91 L322.92,442.94 L327.45,442.94 L331.99,442.89 L336.52,442.82 L341.06,442.73 L345.59,442.63 L350.12,442.51 L354.66,442.38 L359.19,442.24 L363.72,442.10 L368.26,441.95 L372.79,441.80 L377.32,441.65 L381.86,441.49 L386.39,441.33 L390.93,441.17 L395.46,441.01 L399.99,440.85 L404.53,440.69 L409.06,440.53 L413.60,440.36 L418.13,440.20 L422.66,440.03 L427.20,439.87 L431.73,439.70 L436.26,439.54 L440.80,439.37 L445.33,439.20 L449.87,439.04 L454.40,438.87 L458.93,438.70 L463.47,438.53 L468.00,438.37 L468.00,451.95 L463.47,451.71 L458.93,451.47 L454.40,451.24 L449.87,451.00 L445.33,450.76 L440.80,450.53 L436.26,450.29 L431.73,450.06 L427.20,449.82 L422.66,449.59 L418.13,449.35 L413.60,449.12 L409.06,448.89 L404.53,448.65 L399.99,448.42 L395.46,448.19 L390.93,447.96 L386.39,447.73 L381.86,447.51 L377.32,447.28 L372.79,447.06 L368.26,446.84 L363.72,446.62 L359.19,446.41 L354.66,446.20 L350.12,446.00 L345.59,445.82 L341.06,445.64 L336.52,445.48 L331.99,445.34 L327.45,445.23 L322.92,445.15 L318.39,445.11 L313.85,445.11 L309.32,445.14 L304.78,445.20 L300.25,445.29 L295.72,445.39 L291.18,445.51 L286.65,445.64 Z" fill="#8DA0CB" fill-opacity="0.2"/>
<path d="M493.75,460.21 L675.10,400.38" fill="none" stroke="#8DA0CB" stroke-width="2.9"/>
<path d="M493.75,448.37 L675.10,429.67" fill="none" stroke="#FC8D62" stroke-width="2.9" stroke-dasharray="12.2 5.0"/>
<path d="M493.75,439.68 L675.10,433.40" fill="none" stroke="#66C2A5" stroke-width="2.9" stroke-dasharray="5.7 5.8"/>
<path d="M493.75,424.44 L498.28,426.28 L502.82,428.10 L507.35,429.89 L511.88,431.62 L516.42,433.23 L520.95,434.57 L525.49,435.25 L530.02,434.79 L534.55,433.39 L539.09,431.57 L543.62,429.57 L548.15,427.49 L552.69,425.37 L557.22,423.23 L561.76,421.06 L566.29,418.89 L570.82,416.71 L575.36,414.53 L579.89,412.34 L584.42,410.14 L588.96,407.95 L593.49,405.75 L598.03,403.55 L602.56,401.35 L607.09,399.15 L611.63,396.95 L616.16,394.74 L620.70,392.54 L625.23,390.33 L629.76,388.13 L634.30,385.92 L638.83,383.72 L643.36,381.51 L647.90,379.30 L652.43,377.10 L656.97,374.89 L661.50,372.68 L666.03,370.47 L670.57,368.27 L675.10,366.06 L675.10,500.73 L670.57,498.84 L666.03,496.95 L661.50,495.05 L656.97,493.16 L652.43,491.27 L647.90,489.37 L643.36,487.48 L638.83,485.59 L634.30,483.70 L629.76,481.81 L625.23,479.91 L620.70,478.02 L616.16,476.13 L611.63,474.24 L607.09,472.36 L602.56,470.47 L598.03,468.58 L593.49,466.70 L588.96,464.81 L584.42,462.93 L579.89,461.05 L575.36,459.18 L570.82,457.31 L566.29,455.44 L561.76,453.58 L557.22,451.73 L552.69,449.90 L548.15,448.09 L543.62,446.33 L539.09,444.65 L534.55,443.14 L530.02,442.06 L525.49,441.90 L520.95,442.90 L516.42,444.56 L511.88,446.48 L507.35,448.52 L502.82,450.63 L498.28,452.76 L493.75,454.92 Z" fill="#66C2A5" fill-opacity="0.2"/>
<path d="M493.75,433.32 L498.28,434.82 L502.82,436.31 L507.35,437.76 L511.88,439.15 L516.42,440.42 L520.95,441.42 L525.49,441.77 L530.02,441.01 L534.55,439.32 L539.09,437.22 L543.62,434.94 L548.15,432.58 L552.69,430.18 L557.22,427.75 L561.76,425.30 L566.29,422.85 L570.82,420.38 L575.36,417.91 L579.89,415.44 L584.42,412.96 L588.96,410.48 L593.49,408.00 L598.03,405.52 L602.56,403.03 L607.09,400.55 L611.63,398.06 L616.16,395.57 L620.70,393.09 L625.23,390.60 L629.76,388.11 L634.30,385.62 L638.83,383.13 L643.36,380.64 L647.90,378.15 L652.43,375.66 L656.97,373.17 L661.50,370.68 L666.03,368.18 L670.57,365.69 L675.10,363.20 L675.10,496.14 L670.57,494.58 L666.03,493.03 L661.50,491.47 L656.97,489.92 L652.43,488.36 L647.90,486.80 L643.36,485.25 L638.83,483.69 L634.30,482.14 L629.76,480.58 L625.23,479.03 L620.70,477.48 L616.16,475.92 L611.63,474.37 L607.09,472.82 L602.56,471.27 L598.03,469.72 L593.49,468.17 L588.96,466.63 L584.42,465.08 L579.89,463.54 L575.36,462.00 L570.82,460.47 L566.29,458.94 L561.76,457.42 L557.22,455.91 L552.69,454.41 L548.15,452.94 L543.62,451.52 L539.09,450.17 L534.55,449.01 L530.02,448.26 L525.49,448.42 L520.95,449.71 L516.42,451.65 L511.88,453.86 L507.35,456.18 L502.82,458.57 L498.28,460.98 L493.75,463.42 Z" fill="#FC8D62" fill-opacity="0.2"/>
<path d="M493.75,444.92 L498.28,445.43 L502.82,445.92 L507.35,446.38 L511.88,446.77 L516.42,447.05 L520.95,447.06 L525.49,446.41 L530.02,444.60 L534.55,441.86 L539.09,438.69 L543.62,435.35 L548.15,431.93 L552.69,428.46 L557.22,424.97 L561.76,421.46 L566.29,417.94 L570.82,414.42 L575.36,410.89 L579.89,407.35 L584.42,403.81 L588.96,400.27 L593.49,396.73 L598.03,393.18 L602.56,389.64 L607.09,386.09 L611.63,382.54 L616.16,379.00 L620.70,375.45 L625.23,371.90 L629.76,368.35 L634.30,364.79 L638.83,361.24 L643.36,357.69 L647.90,354.14 L652.43,350.59 L656.97,347.04 L661.50,343.48 L666.03,339.93 L670.57,336.38 L675.10,332.82 L675.10,467.93 L670.57,467.37 L666.03,466.81 L661.50,466.25 L656.97,465.69 L652.43,465.12 L647.90,464.56 L643.36,464.00 L638.83,463.44 L634.30,462.88 L629.76,462.32 L625.23,461.76 L620.70,461.21 L616.16,460.65 L611.63,460.09 L607.09,459.53 L602.56,458.98 L598.03,458.42 L593.49,457.87 L588.96,457.32 L584.42,456.77 L579.89,456.22 L575.36,455.68 L570.82,455.14 L566.29,454.61 L561.76,454.08 L557.22,453.56 L552.69,453.06 L548.15,452.59 L543.62,452.16 L539.09,451.81 L534.55,451.63 L530.02,451.88 L525.49,453.06 L520.95,455.40 L516.42,458.40 L511.88,461.67 L507.35,465.06 L502.82,468.51 L498.28,471.99 L493.75,475.49 Z" fill="#8DA0CB" fill-opacity="0.2"/>
<text x="271.2" y="228.02" text-anchor="end" font-family='"Liberation Sans", sans-serif' font-size="12" fill="#4D4D4D">−5</text>
<text x="271.2" y="176.35" text-anchor="end" font-family='"Liberation Sans", sans-serif' font-size="12" fill="#4D4D4D">0</text>
<text x="271.2" y="124.69" text-anchor="end" font-family='"Liberation Sans", sans-serif' font-size="12" fill="#4D4D4D">5</text>
<text x="271.2" y="73.02" text-anchor="end" font-family='"Liberation Sans", sans-serif' font-size="12" fill="#4D4D4D">10</text>
<text x="271.2" y="479.60" text-anchor="end" font-family='"Liberation Sans", sans-serif' font-size="12" fill="#4D4D4D">0</text>
<text x="271.2" y="443.07" text-anchor="end" font-family='"Liberation Sans", sans-serif' font-size="12" fill="#4D4D4D">5</text>
<text x="271.2" y="406.55" text-anchor="end" font-family='"Liberation Sans", sans-serif' font-size="12" fill="#4D4D4D">10</text>
<text x="271.2" y="370.02" text-anchor="end" font-family='"Liberation Sans", sans-serif' font-size="12" fill="#4D4D4D">15</text>
<text x="271.2" y="333.50" text-anchor="end" font-family='"Liberation Sans", sans-serif' font-size="12" fill="#4D4D4D">20</text>
<text x="325.93" y="245.0" text-anchor="middle" font-family='"Liberation Sans", sans-serif' font-size="12" fill="#4D4D4D">10</text>
<text x="378.77" y="245.0" text-anchor="middle" font-family='"Liberation Sans", sans-serif' font-size="12" fill="#4D4D4D">15</text>
<text x="431.62" y="245.0" text-anchor="middle" font-family='"Liberation Sans", sans-serif' font-size="12" fill="#4D4D4D">20</text>
<text x="282.50" y="524.4" text-anchor="middle" font-family='"Liberation Sans", sans-serif' font-size="12" fill="#4D4D4D">0</text>
<text x="355.75" y="524.4" text-anchor="middle" font-family='"Liberation Sans", sans-serif' font-size="12" fill="#4D4D4D">5</text>
<text x="429.00" y="524.4" text-anchor="middle" font-family='"Liberation Sans", sans-serif' font-size="12" fill="#4D4D4D">10</text>
<text x="533.02" y="245.0" text-anchor="middle" font-family='"Liberation Sans", sans-serif' font-size="12" fill="#4D4D4D">10</text>
<text x="585.88" y="245.0" text-anchor="middle" font-family='"Liberation Sans", sans-serif' font-size="12" fill="#4D4D4D">15</text>
<text x="638.73" y="245.0" text-anchor="middle" font-family='"Liberation Sans", sans-serif' font-size="12" fill="#4D4D4D">20</text>
<text x="489.60" y="524.4" text-anchor="middle" font-family='"Liberation Sans", sans-serif' font-size="12" fill="#4D4D4D">0</text>
<text x="562.85" y="524.4" text-anchor="middle" font-family='"Liberation Sans", sans-serif' font-size="12" fill="#4D4D4D">5</text>
<text x="636.10" y="524.4" text-anchor="middle" font-family='"Liberation Sans", sans-serif' font-size="12" fill="#4D4D4D">10</text>
<text x="481.5" y="261.9" text-anchor="middle" font-family='"Liberation Sans", sans-serif' font-size="13.33" fill="#000">Temperature (°C)</text>
<text x="481.6" y="540.2" text-anchor="middle" font-family='"Liberation Sans", sans-serif' font-size="13.33" fill="#000">Chlorophyll-a concentration (µg/L)</text>
<rect x="277.9" y="20.85" width="199.1" height="23.7" fill="#EBEBEB" stroke="#262626" stroke-width="1.7"/>
<rect x="484.99999999999994" y="20.85" width="199.1" height="23.7" fill="#FFFFFF" stroke="#262626" stroke-width="1.7"/>
<text x="371.2" y="36.70" text-anchor="middle" font-family='"Liberation Sans", sans-serif' font-size="11.73" fill="#1A1A1A">Dark</text>
<text x="583.6" y="36.70" text-anchor="middle" font-family='"Liberation Sans", sans-serif' font-size="11.73" fill="#1A1A1A">Light</text>
<rect x="277.9" y="300.35" width="199.1" height="23.699999999999978" fill="#EBEBEB" stroke="#262626" stroke-width="1.7"/>
<rect x="484.99999999999994" y="300.35" width="199.1" height="23.699999999999978" fill="#FFFFFF" stroke="#262626" stroke-width="1.7"/>
<text x="371.2" y="316.20" text-anchor="middle" font-family='"Liberation Sans", sans-serif' font-size="11.73" fill="#1A1A1A">Dark</text>
<text x="583.6" y="316.20" text-anchor="middle" font-family='"Liberation Sans", sans-serif' font-size="11.73" fill="#1A1A1A">Light</text>
<g clip-path="url(#clip1)"><circle cx="506.0" cy="72.3" r="14.9" fill="url(#moonG)"/><g filter="url(#mblur)"><ellipse cx="501.0" cy="62.8" rx="5.0" ry="3.5" fill="#2A2A2A" fill-opacity="0.7"/><ellipse cx="498.5" cy="68.8" rx="3.5" ry="4.2" fill="#3A3A3A" fill-opacity="0.55"/><ellipse cx="504.0" cy="68.3" rx="2.5" ry="2.2" fill="#4A4A4A" fill-opacity="0.45"/><ellipse cx="512.5" cy="73.8" rx="3.2" ry="3.2" fill="#3A3A3A" fill-opacity="0.5"/><ellipse cx="502.0" cy="78.8" rx="6.0" ry="4.0" fill="#4A4A4A" fill-opacity="0.5"/><ellipse cx="509.0" cy="81.8" rx="3.5" ry="2.5" fill="#4A4A4A" fill-opacity="0.4"/><ellipse cx="496.0" cy="74.8" rx="2.5" ry="4.0" fill="#555555" fill-opacity="0.4"/><ellipse cx="507.5" cy="75.8" rx="2.0" ry="1.8" fill="#4A4A4A" fill-opacity="0.35"/><ellipse cx="502.5" cy="59.8" rx="3.5" ry="1.6" fill="#202020" fill-opacity="0.55"/><ellipse cx="515.5" cy="76.8" rx="1.6" ry="1.8" fill="#3A3A3A" fill-opacity="0.45"/><ellipse cx="512.5" cy="66.3" rx="5.5" ry="4.5" fill="#F0F0F0" fill-opacity="0.6"/><ellipse cx="517.0" cy="71.3" rx="2.5" ry="4.5" fill="#F2F2F2" fill-opacity="0.55"/><ellipse cx="506.5" cy="72.8" rx="1.8" ry="1.5" fill="#E6E6E6" fill-opacity="0.45"/><ellipse cx="504.0" cy="85.8" rx="5" ry="1.6" fill="#D6D6D6" fill-opacity="0.45"/><ellipse cx="493.0" cy="73.3" rx="1.5" ry="4" fill="#CFCFCF" fill-opacity="0.4"/><ellipse cx="501.5" cy="73.8" rx="1.5" ry="1.2" fill="#DADADA" fill-opacity="0.45"/></g><rect x="491.1" y="57.4" width="29.8" height="29.8" filter="url(#mnoise)" opacity="0.7"/></g>
<g clip-path="url(#clip2)"><circle cx="506.0" cy="348.0" r="14.9" fill="url(#moonG)"/><g filter="url(#mblur)"><ellipse cx="501.0" cy="338.5" rx="5.0" ry="3.5" fill="#2A2A2A" fill-opacity="0.7"/><ellipse cx="498.5" cy="344.5" rx="3.5" ry="4.2" fill="#3A3A3A" fill-opacity="0.55"/><ellipse cx="504.0" cy="344.0" rx="2.5" ry="2.2" fill="#4A4A4A" fill-opacity="0.45"/><ellipse cx="512.5" cy="349.5" rx="3.2" ry="3.2" fill="#3A3A3A" fill-opacity="0.5"/><ellipse cx="502.0" cy="354.5" rx="6.0" ry="4.0" fill="#4A4A4A" fill-opacity="0.5"/><ellipse cx="509.0" cy="357.5" rx="3.5" ry="2.5" fill="#4A4A4A" fill-opacity="0.4"/><ellipse cx="496.0" cy="350.5" rx="2.5" ry="4.0" fill="#555555" fill-opacity="0.4"/><ellipse cx="507.5" cy="351.5" rx="2.0" ry="1.8" fill="#4A4A4A" fill-opacity="0.35"/><ellipse cx="502.5" cy="335.5" rx="3.5" ry="1.6" fill="#202020" fill-opacity="0.55"/><ellipse cx="515.5" cy="352.5" rx="1.6" ry="1.8" fill="#3A3A3A" fill-opacity="0.45"/><ellipse cx="512.5" cy="342.0" rx="5.5" ry="4.5" fill="#F0F0F0" fill-opacity="0.6"/><ellipse cx="517.0" cy="347.0" rx="2.5" ry="4.5" fill="#F2F2F2" fill-opacity="0.55"/><ellipse cx="506.5" cy="348.5" rx="1.8" ry="1.5" fill="#E6E6E6" fill-opacity="0.45"/><ellipse cx="504.0" cy="361.5" rx="5" ry="1.6" fill="#D6D6D6" fill-opacity="0.45"/><ellipse cx="493.0" cy="349.0" rx="1.5" ry="4" fill="#CFCFCF" fill-opacity="0.4"/><ellipse cx="501.5" cy="349.5" rx="1.5" ry="1.2" fill="#DADADA" fill-opacity="0.45"/></g><rect x="491.1" y="333.1" width="29.8" height="29.8" filter="url(#mnoise)" opacity="0.7"/></g>
</svg>
</body></html>
